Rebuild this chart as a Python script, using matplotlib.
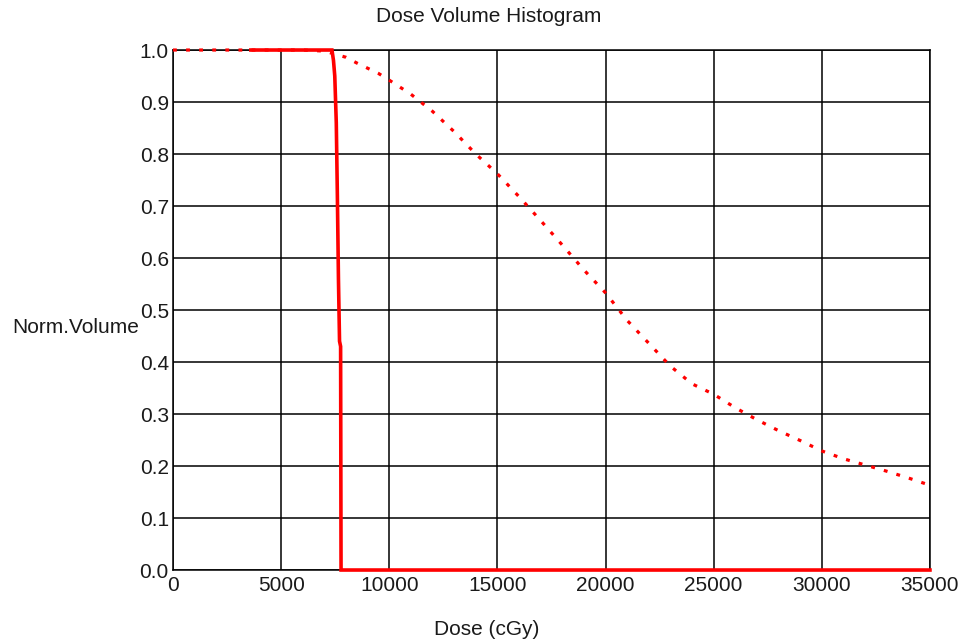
import matplotlib
matplotlib.use('Agg')
import matplotlib.pyplot as plt

plt.rcParams['font.family'] = ['Liberation Sans', 'DejaVu Sans']

# cumulative DVH, broad structure (dotted)
dose_a = [0, 3000, 6000, 7000, 7500, 8000, 8500, 9000, 9500, 10000, 11000,
          12000, 13000, 14000, 15000, 16000, 17000, 18000, 19000, 20000,
          21000, 22000, 23000, 24000, 25000, 26000, 27000, 28000, 29000,
          30000, 31000, 32000, 33000, 34000, 35000]
vol_a = [1.0, 1.0, 1.0, 0.998, 0.992, 0.986, 0.975, 0.965, 0.955, 0.942,
         0.915, 0.882, 0.843, 0.800, 0.762, 0.718, 0.672, 0.625, 0.577,
         0.533, 0.480, 0.436, 0.392, 0.358, 0.338, 0.312, 0.289, 0.268,
         0.249, 0.229, 0.214, 0.202, 0.190, 0.177, 0.163]

# cumulative DVH, target (solid)
dose_b = [3600, 7350, 7420, 7480, 7550, 7600, 7650, 7700, 7750, 7770, 35000]
vol_b = [1.0, 1.0, 0.98, 0.95, 0.86, 0.72, 0.56, 0.44, 0.43, 0.0, 0.0]

xticks = [0, 5000, 10000, 15000, 20000, 25000, 30000, 35000]
yticks = [0.0, 0.1, 0.2, 0.3, 0.4, 0.5, 0.6, 0.7, 0.8, 0.9, 1.0]

fig = plt.figure(figsize=(9.67, 6.43), dpi=100)
ax = fig.add_axes([0.1789, 0.1135, 0.7828, 0.8087])

ax.plot(dose_b, vol_b, color='#ff0000', lw=2.6, solid_joinstyle='miter',
        clip_on=False, zorder=3)
ax.plot(dose_a, vol_a, color='#ff0000', lw=2.3, linestyle=(0, (1.2, 2.9)),
        clip_on=False, zorder=4)

ax.set_xlim(0, 35000)
ax.set_ylim(0, 1.0)
ax.set_xticks(xticks)
ax.set_yticks(yticks)
ax.set_yticklabels(['%.1f' % v for v in yticks])
ax.grid(True, color='black', lw=1.1)
ax.set_axisbelow(True)
ax.tick_params(length=0, labelsize=15, colors='#1a1a1a')
ax.tick_params(axis='x', pad=4)
ax.tick_params(axis='y', pad=3)
for s in ax.spines.values():
    s.set_color('black')
    s.set_linewidth(1.1)

ax.set_title('Dose Volume Histogram', fontsize=15, x=0.417, y=1.037, color='#1a1a1a')
ax.set_xlabel('Dose (cGy)', fontsize=15, color='#1a1a1a')
ax.xaxis.set_label_coords(0.415, -0.097)
ax.set_ylabel('Norm.Volume', fontsize=15, rotation=0, ha='center', va='center', color='#1a1a1a')
ax.yaxis.set_label_coords(-0.128, 0.466)

fig.savefig('out.png', dpi=100)
